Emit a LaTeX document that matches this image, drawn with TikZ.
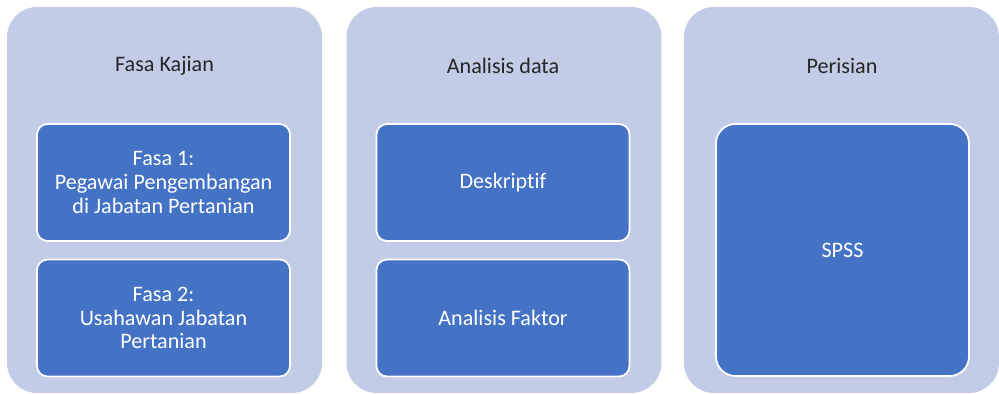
\documentclass[tikz,border=0pt]{standalone}
\usepackage{fontspec}
\setmainfont{Carlito}[Ligatures=NoCommon]
\usepackage{xcolor}
\usetikzlibrary{positioning}
\definecolor{panelblue}{HTML}{C3CCE7}
\definecolor{boxblue}{HTML}{4472C4}
\definecolor{titlegray}{HTML}{262626}

\begin{document}
\begin{tikzpicture}[
  x=0.02cm, y=-0.02cm,
  every node/.style={font=\fontsize{12.6}{13.4}\selectfont},
  panel/.style={rectangle, rounded corners=17pt, fill=panelblue, draw=none, minimum width=6.3cm, minimum height=7.72cm},
  paneltitle/.style={text=titlegray, align=center},
  itembox/.style={rectangle, rounded corners=6pt, draw=white, line width=1pt, fill=boxblue, text=white, minimum width=5.06cm, minimum height=2.34cm, align=center},
]
\useasboundingbox (0,0) rectangle (999,394);

% panels
\node[panel] (p1) at (164.5, 200) {};
\node[panel] (p2) at (504, 200) {};
\node[panel] (p3) at (841.5, 200) {};

\node[paneltitle] (t1) at (164.5, 66) {Fasa Kajian};
\node[paneltitle] (t2) at (503, 66) {Analisis data};
\node[paneltitle] (t3) at (842, 66) {Perisian};

% inner boxes
\node[itembox] (f1) at (163.5, 182.5) {Fasa 1:\\Pegawai Pengembangan\\di Jabatan Pertanian};
\node[itembox] (f2) at (163.5, 318) {Fasa 2:\\Usahawan Jabatan\\Pertanian};
\node[itembox] (a1) at (503, 182.5) {Deskriptif};
\node[itembox] (a2) at (503, 318) {Analisis Faktor};
\node[itembox, rounded corners=11pt, minimum height=5.04cm] (s1) at (842.5, 250) {SPSS};
\end{tikzpicture}
\end{document}
